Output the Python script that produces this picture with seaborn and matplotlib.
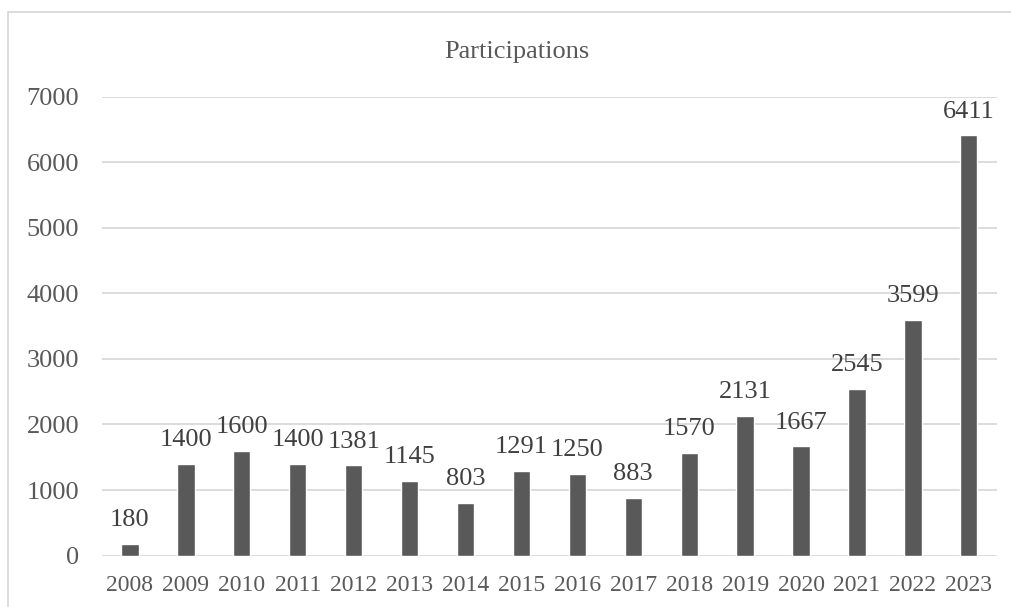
import matplotlib
matplotlib.use('Agg')
import matplotlib.pyplot as plt
import seaborn as sns
import pandas as pd
from matplotlib.patches import Rectangle

years = ['2008', '2009', '2010', '2011', '2012', '2013', '2014', '2015',
         '2016', '2017', '2018', '2019', '2020', '2021', '2022', '2023']
participations = [180, 1400, 1600, 1400, 1381, 1145, 803, 1291,
                  1250, 883, 1570, 2131, 1667, 2545, 3599, 6411]

df = pd.DataFrame({'year': years, 'participations': participations})

sns.set_style('white')
plt.rcParams['font.family'] = ['Liberation Serif', 'DejaVu Serif']

fig = plt.figure(figsize=(10.11, 6.07), dpi=100)
ax = fig.add_axes([0.1009, 0.0847, 0.885, 0.7562])

sns.barplot(data=df, x='year', y='participations', color='#595959',
            saturation=1, width=0.31, ax=ax)

ax.set_ylim(0, 7000)
ax.set_yticks(range(0, 7001, 1000))
ax.yaxis.grid(True, color='#d9d9d9', linewidth=1.3)
ax.set_axisbelow(True)
for s in ax.spines.values():
    s.set_visible(False)
ax.set_xlabel('')
ax.set_ylabel('')
ax.tick_params(axis='y', labelsize=19, colors='#595959', length=0, pad=16.5)
ax.tick_params(axis='x', labelsize=17, colors='#595959', length=0, pad=14)

for i, v in enumerate(participations):
    ax.annotate(str(v), (i, v), xytext=(0, 9), textcoords='offset points',
                ha='center', va='bottom', fontsize=19, color='#404040')

fig.text(0.511, 0.914, 'Participations', ha='center', va='center',
         fontsize=19, color='#595959')

fig.patches.append(Rectangle((0.008, -0.1), 1.1, 1.08, transform=fig.transFigure,
                             fill=False, edgecolor='#d9d9d9', linewidth=1.3))

fig.savefig('out.png', dpi=100, facecolor='white')
